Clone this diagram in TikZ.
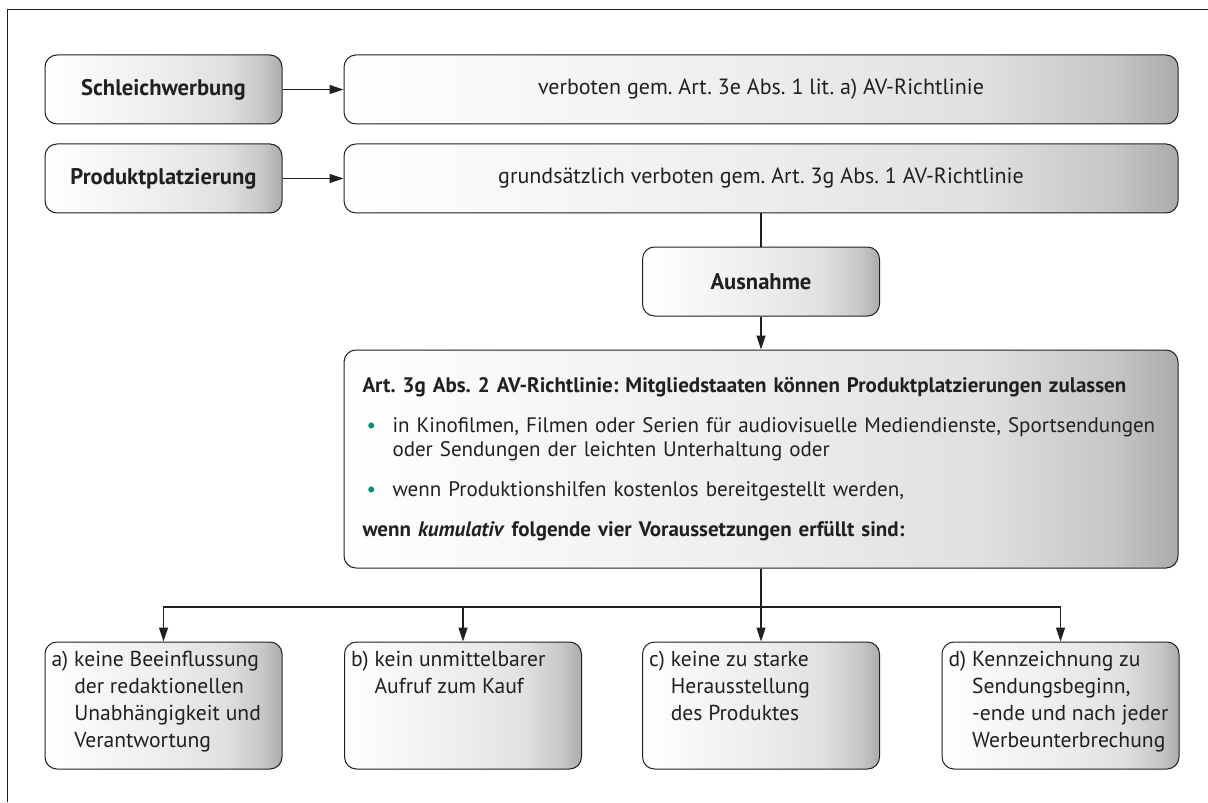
\documentclass[tikz,border=0pt]{standalone}
\usepackage{fontspec}
\setmainfont{PT Sans}
\usetikzlibrary{arrows.meta}

\definecolor{inkgray}{RGB}{35,31,32}
\definecolor{bulletgreen}{RGB}{0,148,118}

% Verlauf der Kaesten: links hell, rechts dunkler
\pgfdeclarehorizontalshading{boxgrad}{100bp}{%
    color(0bp)=(white);
    color(25bp)=(white);
    color(50bp)=(black!7);
    color(63bp)=(black!12);
    color(71bp)=(black!22);
    color(75bp)=(black!33);
    color(100bp)=(black!33)}

\frenchspacing

\begin{document}
\begin{tikzpicture}[
    x=0.5pt,
    y=-0.5pt,
    every node/.style={font=\fontsize{10.5}{12}\selectfont, text=inkgray},
    box/.style={
        rectangle,
        draw=inkgray,
        line width=0.5pt,
        rounded corners=6pt,
        shade,
        shading=boxgrad,
        minimum width=118.5pt,
        minimum height=34.5pt,
        inner sep=0pt,
        align=center
    },
    label/.style={
        box,
        font=\fontsize{11.3}{13}\selectfont\bfseries
    },
    widebox/.style={
        box,
        minimum width=417pt
    },
    condbox/.style={
        box,
        minimum height=63.5pt
    },
    link/.style={
        draw=inkgray,
        line width=0.6pt
    },
    arrow/.style={
        link,
        -{Triangle[length=7pt,width=4.5pt]}
    }
]
\useasboundingbox (0,0) rectangle (1208,802);

% Rahmen
\draw[inkgray, line width=0.5pt] (7,802) -- (7,10) -- (1208,10);

% Werbeformen
\node[label] (schleich) at (163.5,89.5) {Schleichwerbung};
\node[label] (produkt) at (163.5,178.5) {Produktplatzierung};

% Regelungen
\node[widebox, font=\fontsize{11}{13}\selectfont] (verbot1) at (761,89.5) {verboten gem. Art. 3e Abs. 1 lit. a) AV-Richtlinie};
\node[widebox, font=\fontsize{11}{13}\selectfont] (verbot2) at (761,178.5) {grundsätzlich verboten gem. Art. 3g Abs. 1 AV-Richtlinie};

\draw[arrow] (schleich) -- (verbot1);
\draw[arrow] (produkt) -- (verbot2);

% Ausnahme
\node[label] (ausnahme) at (761,281.5) {Ausnahme};
\draw[link] (verbot2) -- (ausnahme);

% Art. 3g Abs. 2
\node[widebox, minimum height=109pt, inner xsep=9pt, text width=398.5pt, align=left] (rule) at (761,459) {%
    \textbf{Art. 3g Abs. 2 AV-Richtlinie: Mitgliedstaaten können Produktplatzierungen zulassen}\\[8pt]
    \makebox[15pt][l]{\hspace{2pt}\textcolor{bulletgreen}{\textbullet}}in Kinofilmen, Filmen oder Serien für audiovisuelle Mediendienste, Sportsendungen\\
    \hspace*{15pt}oder Sendungen der leichten Unterhaltung oder\\[8pt]
    \makebox[15pt][l]{\hspace{2pt}\textcolor{bulletgreen}{\textbullet}}wenn Produktionshilfen kostenlos bereitgestellt werden,\\[8pt]
    \textbf{wenn \textit{kumulativ} folgende vier Voraussetzungen erfüllt sind:}};
\draw[arrow] (ausnahme) -- (rule);

% Voraussetzungen a) bis d)
\node[condbox] (condA) at (163.5,705.5) {\parbox[c][58pt][t]{112pt}{\fontsize{10.8}{13.5}\selectfont
    \begin{tabular}[t]{@{}l@{\hspace{3pt}}l@{}}a) & keine Beeinflussung\\ & der redaktionellen\\ & Unabhängigkeit und\\ & Verantwortung\end{tabular}}};
\node[condbox] (condB) at (463,705.5) {\parbox[c][58pt][t]{112pt}{\fontsize{10.8}{13.5}\selectfont
    \begin{tabular}[t]{@{}l@{\hspace{3pt}}l@{}}b) & kein unmittelbarer\\ & Aufruf zum Kauf\end{tabular}}};
\node[condbox] (condC) at (761,705.5) {\parbox[c][58pt][t]{112pt}{\fontsize{10.8}{13.5}\selectfont
    \begin{tabular}[t]{@{}l@{\hspace{3pt}}l@{}}c) & keine zu starke\\ & Herausstellung\\ & des Produktes\end{tabular}}};
\node[condbox] (condD) at (1060.5,705.5) {\parbox[c][58pt][t]{112pt}{\fontsize{10.8}{13.5}\selectfont
    \begin{tabular}[t]{@{}l@{\hspace{3pt}}l@{}}d) & Kennzeichnung zu\\ & Sendungsbeginn,\\ & -ende und nach jeder\\ & Werbeunterbrechung\end{tabular}}};

% Verzweigung
\coordinate (fork) at (761,607);
\draw[link] (rule) -- (fork);
\draw[arrow] (fork) -| (condA);
\draw[arrow] (fork) -| (condB);
\draw[arrow] (fork) -- (condC);
\draw[arrow] (fork) -| (condD);

\end{tikzpicture}
\end{document}
